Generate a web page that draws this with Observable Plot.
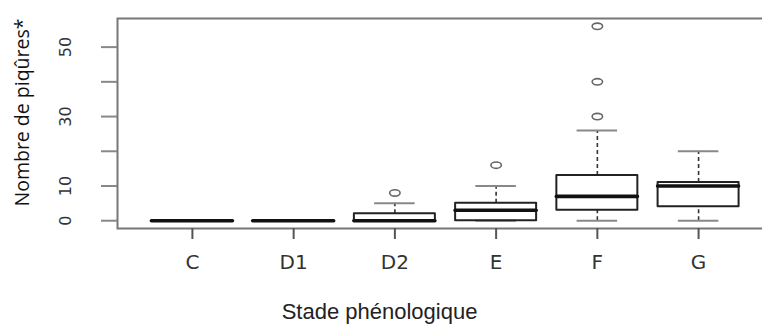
<!DOCTYPE html>
<html>
<head>
<meta charset="utf-8">
<script src="https://cdn.jsdelivr.net/npm/d3@7"></script>
<script src="https://cdn.jsdelivr.net/npm/@observablehq/plot@0.6"></script>
<style>
  html, body { margin: 0; padding: 0; background: #fff; }
  #chart { width: 762px; height: 327px; overflow: hidden; }
</style>
</head>
<body>
<div id="chart"></div>
<script>
// ---- data ----
const stages = ["C", "D1", "D2", "E", "F", "G"];
const whiskerLow = [0, 0, 0, 0, 0, 0];
const q1 = [0, 0, 0, 0, 3, 4];
const median = [0, 0, 0, 3, 7, 10];
const q3 = [0, 0, 2, 5, 13, 11];
const whiskerHigh = [0, 0, 5, 10, 26, 20];
const outlierStage = ["D2", "E", "F", "F", "F"];
const outlierValue = [8, 16, 30, 40, 56];
const yTicks = [0, 10, 20, 30, 40, 50];
const yTickLabels = ["0", "10", "", "30", "", "50"];
const xTitle = "Stade phénologique";
const yTitle = "Nombre de piqûres*";

// ---- tables built from the arrays ----
const boxes = stages.map((s, i) => ({
  pos: i + 1, stage: s,
  lo: whiskerLow[i], q1: q1[i], med: median[i], q3: q3[i], hi: whiskerHigh[i]
}));
const outliers = outlierStage.map((s, j) => ({pos: stages.indexOf(s) + 1, value: outlierValue[j]}));
const yLabelRows = yTicks.map((v, i) => ({value: v, label: yTickLabels[i]}));

// R-like extended ranges (4%)
const xMin = 0.5, xMax = stages.length + 0.5;
const xPad = (xMax - xMin) * 0.04;
const allVals = [...whiskerLow, ...whiskerHigh, ...outlierValue];
const yLo = d3.min(allVals), yHi = d3.max(allVals);
const yPad = (yHi - yLo) * 0.04;

const boxHalf = 0.4;   // boxwex 0.8
const capHalf = 0.2;   // staplewex 0.5

// open ellipse symbol (the reference circles are slightly stretched)
const ellipse = {
  draw(context, size) {
    const r = Math.sqrt(size / Math.PI);
    const rx = r * 1.3, ry = r * 0.8, k = 0.5523;
    context.moveTo(rx, 0);
    context.bezierCurveTo(rx, ry * k, rx * k, ry, 0, ry);
    context.bezierCurveTo(-rx * k, ry, -rx, ry * k, -rx, 0);
    context.bezierCurveTo(-rx, -ry * k, -rx * k, -ry, 0, -ry);
    context.bezierCurveTo(rx * k, -ry, rx, -ry * k, rx, 0);
    context.closePath();
  }
};

const chart = Plot.plot({
  width: 762,
  height: 327,
  marginLeft: 117,
  marginRight: -11,
  marginTop: 18,
  marginBottom: 99,
  style: {fontFamily: "Liberation Sans, Arial, sans-serif", background: "#fff"},
  x: {type: "linear", domain: [xMin - xPad, xMax + xPad]},
  y: {domain: [yLo - yPad, yHi + yPad]},
  marks: [
    // whiskers (dashed)
    Plot.ruleX(boxes, {x: "pos", y1: "q3", y2: "hi", stroke: "#333", strokeWidth: 1.6, strokeDasharray: "4,3"}),
    Plot.ruleX(boxes, {x: "pos", y1: "lo", y2: "q1", stroke: "#333", strokeWidth: 1.6, strokeDasharray: "4,3"}),
    // staples
    Plot.ruleY(boxes, {y: "hi", x1: d => d.pos - capHalf, x2: d => d.pos + capHalf, stroke: "#888", strokeWidth: 2}),
    Plot.ruleY(boxes, {y: "lo", x1: d => d.pos - capHalf, x2: d => d.pos + capHalf, stroke: "#888", strokeWidth: 2}),
    // boxes
    Plot.rect(boxes, {x1: d => d.pos - boxHalf, x2: d => d.pos + boxHalf, y1: "q1", y2: "q3",
      fill: "none", stroke: "#222", strokeWidth: 2, strokeLinejoin: "round"}),
    // medians
    Plot.ruleY(boxes, {y: "med", x1: d => d.pos - boxHalf, x2: d => d.pos + boxHalf,
      stroke: "#111", strokeWidth: 3.6, strokeLinecap: "round"}),
    // outliers
    Plot.dot(outliers, {x: "pos", y: "value", r: 4, symbol: ellipse, stroke: "#666", strokeWidth: 1.6, fill: "none"}),
    // frame
    Plot.frame({stroke: "#777", strokeWidth: 2}),
    // y axis ticks
    Plot.axisY({ticks: yTicks, tickSize: 16, tickFormat: () => "", stroke: "#888", strokeWidth: 2, label: null}),
    // y tick labels (rotated, R style)
    Plot.text(yLabelRows, {y: "value", text: "label", frameAnchor: "left", dx: -52, rotate: -90,
      fontSize: 16, fontFamily: "DejaVu Sans, sans-serif", fill: "#333", textAnchor: "middle", lineAnchor: "middle"}),
    // x axis
    Plot.axisX({ticks: boxes.map(d => d.pos), tickFormat: d => stages[d - 1], tickSize: 11, tickPadding: 15,
      fontSize: 20, fontFamily: "DejaVu Sans, sans-serif", stroke: "#555", strokeWidth: 2, fill: "#333", label: null}),
    // axis titles
    Plot.text([xTitle], {frameAnchor: "bottom-left", dx: 262, dy: 83, fontSize: 22, fill: "#222",
      textAnchor: "middle", lineAnchor: "middle"}),
    Plot.text([yTitle], {frameAnchor: "left", dx: -95, dy: -11, rotate: -90, fontSize: 19.5, fill: "#111",
      fontFamily: "Open Sans, Noto Sans, sans-serif", textAnchor: "middle", lineAnchor: "middle"})
  ]
});
document.getElementById("chart").appendChild(chart);
</script>
</body>
</html>
